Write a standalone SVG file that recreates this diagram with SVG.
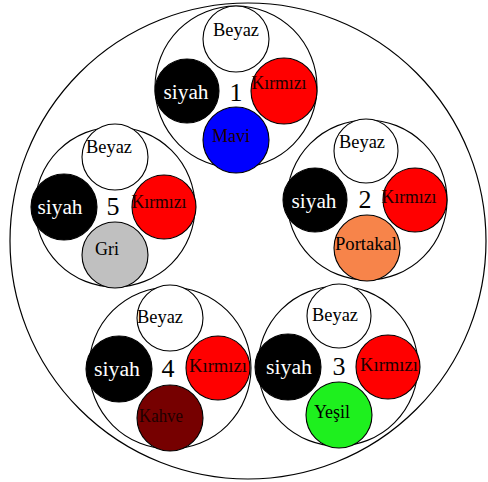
<svg xmlns="http://www.w3.org/2000/svg" width="488" height="482" viewBox="0 0 488 482">
<style>
.outer{fill:#fff;stroke:#000;stroke-width:1.2}
.grp{fill:none;stroke:#000;stroke-width:1.1}
.c{stroke:#000;stroke-width:1.1}
.w{fill:#fff}.k{fill:#000}.r{fill:#ff0000}.b{fill:#0000ff}.o{fill:#f7844a}.g{fill:#c0c0c0}.br{fill:#760000}.gr{fill:#1ef01e}
text{font-family:"Liberation Serif","Times New Roman",serif;text-anchor:middle}
.l{font-size:18px;fill:#000}
.lr{font-size:18px;fill:#200000}
.s{font-size:20px;fill:#fff}
.n{font-size:26px;fill:#000}
</style>
<rect width="488" height="482" fill="#fff"/>
<circle class="outer" cx="248" cy="241" r="238"/>
<g id="connectors"/>
<g id="cable1">
<circle class="grp" cx="236" cy="87" r="81"/>
<circle class="c w" cx="236" cy="39" r="33"/>
<circle class="c k" cx="187" cy="91" r="32"/>
<circle class="c r" cx="284" cy="91" r="33"/>
<circle class="c b" cx="236" cy="140" r="33"/>
<text class="l" x="236" y="36" textLength="46" lengthAdjust="spacingAndGlyphs">Beyaz</text>
<text class="s" x="186" y="99" textLength="45" lengthAdjust="spacingAndGlyphs">siyah</text>
<text class="lr" x="279" y="89" textLength="55" lengthAdjust="spacingAndGlyphs">Kırmızı</text>
<text class="lr" x="231" y="142">Mavi</text>
<text class="n" x="236" y="101">1</text>
</g>
<g id="cable2">
<circle class="grp" cx="367" cy="200" r="80"/>
<circle class="c w" cx="366" cy="151" r="32"/>
<circle class="c k" cx="315" cy="200" r="32"/>
<circle class="c r" cx="415" cy="200" r="32"/>
<circle class="c o" cx="367" cy="248" r="33"/>
<text class="l" x="362" y="148" textLength="46" lengthAdjust="spacingAndGlyphs">Beyaz</text>
<text class="s" x="314" y="208" textLength="45" lengthAdjust="spacingAndGlyphs">siyah</text>
<text class="lr" x="409" y="203" textLength="55" lengthAdjust="spacingAndGlyphs">Kırmızı</text>
<text class="l" x="366" y="250" textLength="62" lengthAdjust="spacingAndGlyphs">Portakal</text>
<text class="n" x="365" y="208">2</text>
</g>
<g id="cable5">
<circle class="grp" cx="115" cy="207" r="80"/>
<circle class="c w" cx="115" cy="157" r="33"/>
<circle class="c k" cx="64" cy="207" r="33"/>
<circle class="c r" cx="164" cy="207" r="32"/>
<circle class="c g" cx="115" cy="255" r="33"/>
<text class="l" x="109" y="153" textLength="46" lengthAdjust="spacingAndGlyphs">Beyaz</text>
<text class="s" x="60" y="214" textLength="45" lengthAdjust="spacingAndGlyphs">siyah</text>
<text class="lr" x="159" y="208" textLength="55" lengthAdjust="spacingAndGlyphs">Kırmızı</text>
<text class="l" x="107" y="255">Gri</text>
<text class="n" x="113" y="215">5</text>
</g>
<g id="cable4">
<circle class="grp" cx="170" cy="368" r="81"/>
<circle class="c w" cx="170" cy="318" r="33"/>
<circle class="c k" cx="119" cy="369" r="33"/>
<circle class="c r" cx="218" cy="368" r="32"/>
<circle class="c br" cx="170" cy="418" r="33"/>
<text class="l" x="160" y="323" textLength="46" lengthAdjust="spacingAndGlyphs">Beyaz</text>
<text class="s" x="117" y="376" textLength="46" lengthAdjust="spacingAndGlyphs">siyah</text>
<text class="lr" x="218" y="372" textLength="58" lengthAdjust="spacingAndGlyphs">Kırmızı</text>
<text class="lr" x="161" y="422" textLength="44" lengthAdjust="spacingAndGlyphs">Kahve</text>
<text class="n" x="168" y="377">4</text>
</g>
<g id="cable3">
<circle class="grp" cx="338" cy="366" r="80"/>
<circle class="c w" cx="339" cy="316" r="32"/>
<circle class="c k" cx="288" cy="367" r="33"/>
<circle class="c r" cx="388" cy="367" r="32"/>
<circle class="c gr" cx="339" cy="415" r="33"/>
<text class="l" x="335" y="321" textLength="46" lengthAdjust="spacingAndGlyphs">Beyaz</text>
<text class="s" x="289" y="374" textLength="46" lengthAdjust="spacingAndGlyphs">siyah</text>
<text class="lr" x="389" y="371" textLength="58" lengthAdjust="spacingAndGlyphs">Kırmızı</text>
<text class="l" x="332" y="418">Yeşil</text>
<text class="n" x="339" y="375">3</text>
</g>
</svg>
